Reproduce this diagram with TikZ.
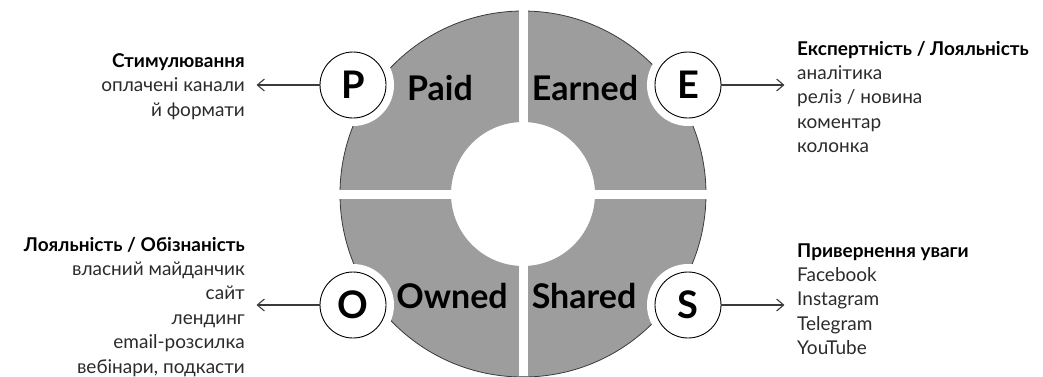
\documentclass[tikz,border=0pt]{standalone}
\usepackage{fontspec}
\setmainfont{Lato}
\usetikzlibrary{positioning,arrows.meta}
\definecolor{ringgrey}{HTML}{9D9D9D}
\definecolor{edgegrey}{HTML}{3A3A3A}
\definecolor{bodytext}{HTML}{2B2B2B}
\tikzset{
  letter/.style={draw=black, line width=0.9pt, circle, minimum size=66pt, inner sep=0pt, fill=white, font=\fontsize{38}{38}\selectfont\bfseries},
  halo/.style={circle, fill=white, minimum size=82pt, inner sep=0pt},
  sector/.style={anchor=base, inner sep=0pt, font=\fontsize{34}{34}\selectfont\bfseries},
  leftnote/.style={align=right, anchor=base east, inner sep=0pt, text=bodytext, font=\fontsize{19}{24.4}\selectfont},
  rightnote/.style={align=left, anchor=base west, inner sep=0pt, text=bodytext, font=\fontsize{19}{24.4}\selectfont},
  pointer/.style={-{Straight Barb[length=7pt,width=12pt]}, line width=1.1pt, draw=edgegrey}
}
\newcommand{\notehead}[1]{\textbf{\color{black}#1}}

\begin{document}
\begin{tikzpicture}[x=1pt, y=-1pt]
  \useasboundingbox (0,0) rectangle (1043,376);
  \coordinate (centre) at (523,194);

  % ring and the white cuts
  \fill[ringgrey, even odd rule] (centre) circle[radius=183] (centre) circle[radius=72];
  \draw[edgegrey, line width=0.8pt] (centre) circle[radius=183];
  \fill[white] (518.5,0) rectangle (527.5,376);
  \fill[white] (330,189.5) rectangle (716,198.5);

  \node[halo] (paidhalo) at (353,85) {};
  \node[halo] (earnedhalo) at (688,85) {};
  \node[halo] (ownedhalo) at (353,305) {};
  \node[halo] (sharedhalo) at (688,305) {};

  \node[letter] (paid) at (353,85) {P};
  \node[letter] (earned) at (688,85) {E};
  \node[letter] (owned) at (353,305) {O};
  \node[letter] (shared) at (688,305) {S};

  \node[sector] (paidlabel) at (440,100) {Paid};
  \node[sector] (earnedlabel) at (585,100) {Earned};
  \node[sector] (ownedlabel) at (452,308) {Owned};
  \node[sector] (sharedlabel) at (584,308) {Shared};

  % notes (anchored at the baseline of their last line)
  \node[leftnote] (paidnote) at (245,116) {\notehead{Стимулювання}\\оплачені канали\\й формати};
  \node[rightnote] (earnednote) at (797,152.6) {\notehead{Експертність / Лояльність}\\аналітика\\реліз / новина\\коментар\\колонка};
  \node[leftnote] (ownednote) at (245,373) {\notehead{Лояльність / Обізнаність}\\власний майданчик\\сайт\\лендинг\\email-розсилка\\вебінари, подкасти};
  \node[rightnote] (sharednote) at (797,354.6) {\notehead{Привернення уваги}\\Facebook\\Instagram\\Telegram\\YouTube};

  \coordinate[left=63pt of paid] (paidtip);
  \coordinate[right=63pt of earned] (earnedtip);
  \coordinate[left=63pt of owned] (ownedtip);
  \coordinate[right=63pt of shared] (sharedtip);

  \draw[pointer] (paid) -- (paidtip);
  \draw[pointer] (earned) -- (earnedtip);
  \draw[pointer] (owned) -- (ownedtip);
  \draw[pointer] (shared) -- (sharedtip);
\end{tikzpicture}
\end{document}
